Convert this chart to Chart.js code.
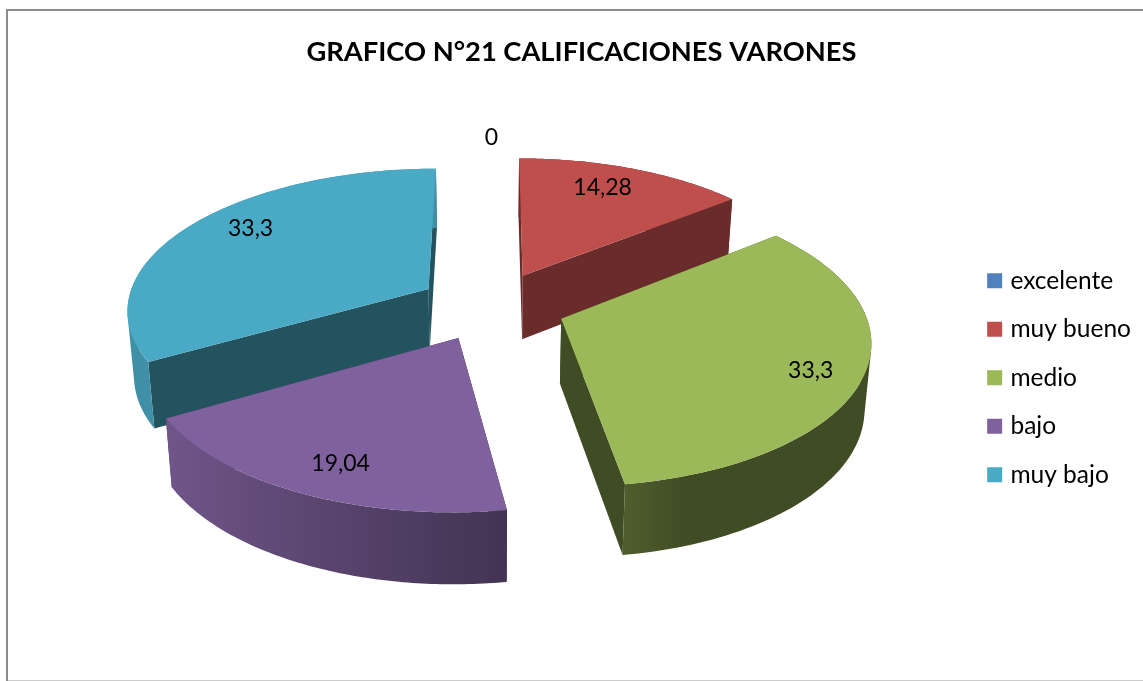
<!DOCTYPE html>
<html>
<head>
<meta charset="utf-8">
<title>Calificaciones varones</title>
<style>
    html, body { margin: 0; padding: 0; background: #fff; }
    canvas { display: block; }
</style>
<script src="https://cdn.jsdelivr.net/npm/chart.js@4"></script>
</head>
<body>
<canvas id="chart" width="1143" height="681"></canvas>
<script>
const categories = ['excelente', 'muy bueno', 'medio', 'bajo', 'muy bajo'];
const porcentajes = [0, 14.28, 33.3, 19.04, 33.3];

const sliceColors = ['#4f81bd', '#be4f4c', '#9bb959', '#7f619d', '#4aa9c4'];
// how dark the side walls get: cut faces, then outer wall left / 25% / right
const cutShade = [0.5, 0.56, 0.41, 0.5, 0.49];
const wallShade = [
    [0.5, 0.5, 0.5],
    [0.56, 0.56, 0.56],
    [0.5, 0.41, 0.41],
    [0.88, 0.78, 0.53],
    [0.85, 0.85, 0.85]
];
// label place on each slice, as a share of the radius and a turn in degrees
const labelReach = [1.18, 0.79, 0.84, 0.82, 0.8];
const labelTurn = [0, -2.7, 2.7, -2.2, 5.7];

const view = { cx: 491.5, cy: 306, a: 302, b: 141, p: 0.136, depth: 64.5, shrink: 0.982 };

// flat pie coordinates (1 = radius, y towards the viewer) to canvas pixels
function project(x, y, low) {
    const s = 1 / (1 - view.p * y);
    let px = view.cx + view.a * x * s;
    let py = view.cy + view.b * y * s;
    if (low) {
        px = view.cx + (px - view.cx) * view.shrink;
        py += view.depth * Math.pow(s, 0.6);
    }
    return [px, py];
}

function shade(hex, f) {
    const n = parseInt(hex.slice(1), 16);
    const r = Math.round((n >> 16) * f);
    const g = Math.round(((n >> 8) & 255) * f);
    const b = Math.round((n & 255) * f);
    return `rgb(${r},${g},${b})`;
}

function tracePath(ctx, points) {
    points.forEach((pt, i) => {
        if (i === 0) ctx.moveTo(pt[0], pt[1]);
        else ctx.lineTo(pt[0], pt[1]);
    });
    ctx.closePath();
}

function fillPath(ctx, points, style) {
    ctx.beginPath();
    tracePath(ctx, points);
    ctx.fillStyle = style;
    ctx.fill();
}

function signedArea(q) {
    let sum = 0;
    q.forEach((pt, i) => {
        const next = q[(i + 1) % q.length];
        sum += pt[0] * next[1] - next[0] * pt[1];
    });
    return sum;
}

function sliceGeometry(arc) {
    const props = arc.getProps(['startAngle', 'endAngle', 'outerRadius'], true);
    const mid = (props.startAngle + props.endAngle) / 2;
    const off = arc.options.offset / props.outerRadius;
    return {
        start: props.startAngle,
        end: props.endAngle,
        mid: mid,
        ox: Math.cos(mid) * off,
        oy: Math.sin(mid) * off
    };
}

function drawSlice(ctx, arc, i) {
    const g = sliceGeometry(arc);
    if (g.end - g.start <= 0) return;

    const rim = (low) => {
        const pts = [];
        for (let k = 0; k <= 90; k++) {
            const t = g.start + (g.end - g.start) * k / 90;
            pts.push(project(g.ox + Math.cos(t), g.oy + Math.sin(t), low));
        }
        return pts;
    };
    const topRim = rim(false);
    const lowRim = rim(true);
    const apex = project(g.ox, g.oy, false);
    const lowApex = project(g.ox, g.oy, true);
    const base = sliceColors[i];

    // cut faces first, the rim wall and the top go over them
    const cut = shade(base, cutShade[i]);
    fillPath(ctx, [apex, topRim[0], lowRim[0], lowApex], cut);
    fillPath(ctx, [apex, topRim[90], lowRim[90], lowApex], cut);

    const xs = topRim.map(pt => pt[0]);
    const grad = ctx.createLinearGradient(Math.min(...xs), 0, Math.max(...xs), 0);
    grad.addColorStop(0, shade(base, wallShade[i][0]));
    grad.addColorStop(0.25, shade(base, wallShade[i][1]));
    grad.addColorStop(1, shade(base, wallShade[i][2]));

    // the rims cross at the silhouette, so the wall is a strip of quads all wound one way
    ctx.beginPath();
    for (let k = 0; k < 90; k++) {
        const q = [topRim[k], topRim[k + 1], lowRim[k + 1], lowRim[k]];
        tracePath(ctx, signedArea(q) < 0 ? q.reverse() : q);
    }
    ctx.fillStyle = grad;
    ctx.fill();

    fillPath(ctx, [apex].concat(topRim), base);
}

const pie3d = {
    id: 'pie3d',
    beforeDraw(chart) {
        const ctx = chart.ctx;
        ctx.save();
        ctx.fillStyle = '#ffffff';
        ctx.fillRect(0, 0, chart.width, chart.height);
        ctx.fillStyle = '#8c8c8c';
        ctx.fillRect(6, 9, chart.width - 6, 2);
        ctx.fillRect(6, 9, 2, chart.height - 9);
        ctx.fillStyle = '#cccccc';
        ctx.fillRect(8, 680, chart.width - 8, 1);
        ctx.restore();
    },
    beforeDatasetsDraw(chart) {
        const ctx = chart.ctx;
        const arcs = chart.getDatasetMeta(0).data;
        const order = arcs.map((arc, i) => i);
        order.sort((a, b) => sliceGeometry(arcs[a]).oy - sliceGeometry(arcs[b]).oy);

        ctx.save();
        order.forEach(i => drawSlice(ctx, arcs[i], i));

        ctx.fillStyle = '#000000';
        ctx.font = '23px Lato';
        ctx.textAlign = 'center';
        ctx.textBaseline = 'middle';
        arcs.forEach((arc, i) => {
            const g = sliceGeometry(arc);
            const t = g.mid + labelTurn[i] * Math.PI / 180;
            const pos = project(g.ox + Math.cos(t) * labelReach[i], g.oy + Math.sin(t) * labelReach[i], false);
            ctx.fillText(String(porcentajes[i]).replace('.', ','), pos[0], pos[1]);
        });
        ctx.restore();
        return false;   // the flat arcs are not wanted
    }
};

new Chart(document.getElementById('chart'), {
    type: 'pie',
    data: {
        labels: categories,
        datasets: [{
            data: porcentajes,
            backgroundColor: sliceColors,
            borderWidth: 0,
            offset: 49,
            radius: 200
        }]
    },
    plugins: [pie3d],
    options: {
        responsive: false,
        animation: false,
        layout: { padding: { left: 22, right: 2, bottom: 170 } },
        plugins: {
            tooltip: { enabled: false },
            title: {
                display: true,
                text: 'GRAFICO N°21 CALIFICACIONES VARONES',
                color: '#000000',
                font: { family: 'Lato', size: 27.3, weight: 'bold' },
                padding: { top: 36, bottom: 12 }
            },
            legend: {
                position: 'right',
                align: 'end',
                labels: {
                    color: '#000000',
                    font: { family: 'Lato', size: 24.5 },
                    boxWidth: 7,
                    boxHeight: 7,
                    padding: 24,
                    // thick border of the fill colour gives the 15px square close to the text
                    generateLabels(chart) {
                        const items = Chart.overrides.pie.plugins.legend.labels.generateLabels(chart);
                        items.forEach(item => {
                            item.strokeStyle = item.fillStyle;
                            item.lineWidth = 8;
                        });
                        return items;
                    }
                }
            }
        }
    }
});
</script>
</body>
</html>
